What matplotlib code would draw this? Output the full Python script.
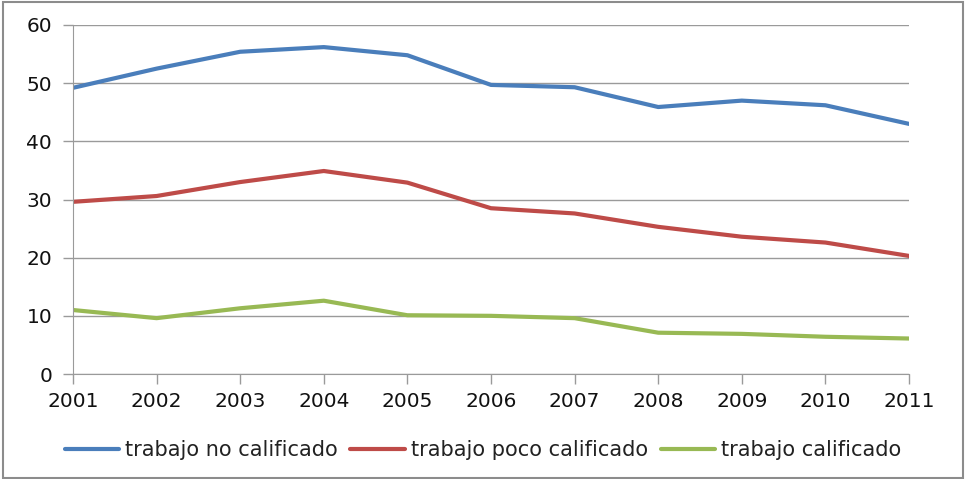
import numpy as np
import matplotlib
matplotlib.use("Agg")
import matplotlib.pyplot as plt
from matplotlib.patches import Rectangle

years = [2001, 2002, 2003, 2004, 2005, 2006, 2007, 2008, 2009, 2010, 2011]
no_calificado = [49.2, 52.5, 55.4, 56.2, 54.8, 49.7, 49.3, 45.9, 47.0, 46.2, 43.0]
poco_calificado = [29.6, 30.6, 33.0, 34.9, 32.9, 28.5, 27.6, 25.3, 23.6, 22.6, 20.3]
calificado = [11.0, 9.6, 11.3, 12.6, 10.1, 10.0, 9.6, 7.1, 6.9, 6.4, 6.1]
labels = ["trabajo no calificado", "trabajo poco calificado", "trabajo calificado"]
yticks = [0, 10, 20, 30, 40, 50, 60]

GRID = "#9a9a9a"

fig = plt.figure(figsize=(9.66, 4.79), dpi=100)
ax = fig.add_axes([73 / 966, 1 - 374 / 479, (909 - 73) / 966, (374 - 25) / 479])

# outer frame of the chart object
fig.patches.append(Rectangle((3 / 966, 1 / 479), 960 / 966, 476 / 479,
                             transform=fig.transFigure, fill=False,
                             edgecolor="#8c8c8c", linewidth=1.5))

ax.plot(years, no_calificado, color="#4a7ebb", lw=3, label=labels[0], solid_capstyle="round")
ax.plot(years, poco_calificado, color="#be4b48", lw=3, label=labels[1], solid_capstyle="round")
ax.plot(years, calificado, color="#98b954", lw=3, label=labels[2], solid_capstyle="round")

ax.set_xlim(years[0], years[-1])
ax.set_ylim(0, 60)
ax.set_xticks(years)
ax.set_yticks(yticks)
ax.yaxis.grid(True, color=GRID, lw=1)
ax.set_axisbelow(True)
for s in ["top", "right"]:
    ax.spines[s].set_visible(False)
for s in ["left", "bottom"]:
    ax.spines[s].set_color(GRID)
ax.tick_params(axis="both", colors=GRID, length=7, width=1, labelsize=14.5,
               labelcolor="#111111")
ax.tick_params(axis="y", pad=8)
ax.tick_params(axis="x", pad=6)

leg = fig.legend(loc="center", bbox_to_anchor=(0.5, 1 - 450 / 479), ncol=3,
                 frameon=False, handlelength=2.6, handletextpad=0.3,
                 columnspacing=0.6, prop={"size": 15})
for t in leg.get_texts():
    t.set_color("#222222")

fig.savefig("out.png", dpi=100)
